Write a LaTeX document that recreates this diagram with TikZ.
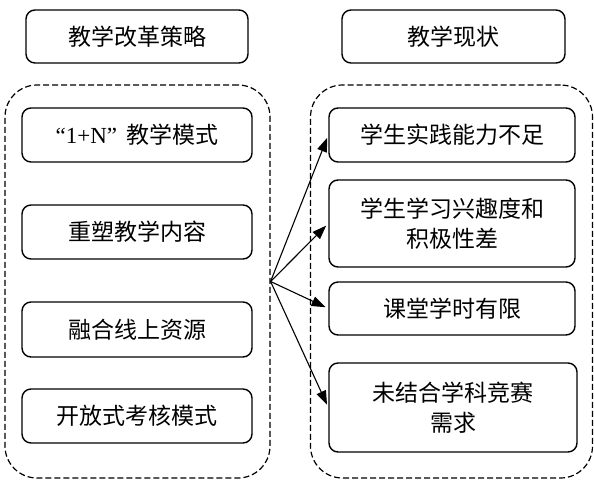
\documentclass[tikz,border=0pt]{standalone}
\usepackage{fontspec}
\setmainfont{Noto Sans CJK SC}
\newfontfamily\tnr{Liberation Serif}
\usetikzlibrary{arrows.meta,positioning}

\begin{document}
\begin{tikzpicture}[x=1pt,y=-1pt,
  box/.style={draw,line width=1.4pt,rounded corners=9pt,minimum width=230pt,minimum height=54pt,align=center,inner sep=2pt,font=\fontsize{23}{30}\selectfont},
  group/.style={draw,line width=1.2pt,dash pattern=on 6pt off 3pt,rounded corners=32pt}]
\useasboundingbox (0,0) rectangle (594,480);
% headers
\node[box,minimum width=222pt,minimum height=53pt] (hstrat) at (137,36.5) {教学改革策略};
\node[box,minimum width=223pt,minimum height=53pt] (hcur) at (453.5,36.5) {教学现状};
% dashed groups
\node[group,minimum width=265pt,minimum height=393pt] (leftgrp) at (137.5,281.5) {};
\node[group,minimum width=282pt,minimum height=393pt] (rightgrp) at (451.5,281.5) {};
% reform strategies
\node[box] (ref1) at (137,135) {{\tnr“1+N”}\hspace{0.4em}教学模式};
\node[box] (ref2) at (137,232) {重塑教学内容};
\node[box,minimum height=55pt] (ref3) at (137,329.5) {融合线上资源};
\node[box] (ref4) at (137,416) {开放式考核模式};
% current situation
\node[box,minimum width=246pt] (cur1) at (452,135) {学生实践能力不足};
\node[box,minimum width=246pt,minimum height=87pt] (cur2) at (452,223.5) {学生学习兴趣度和\\积极性差};
\node[box,minimum width=246pt,minimum height=53pt] (cur3) at (452,308.5) {课堂学时有限};
\node[box,minimum width=248pt,minimum height=89pt] (cur4) at (453,407.5) {未结合学科竞赛\\需求};
\foreach \b in {cur1,cur2,cur3,cur4} \draw[-{Triangle[length=14pt,width=10pt]},line width=1.1pt,shorten >=3pt] (leftgrp.east)--(\b.west);
\end{tikzpicture}
\end{document}
